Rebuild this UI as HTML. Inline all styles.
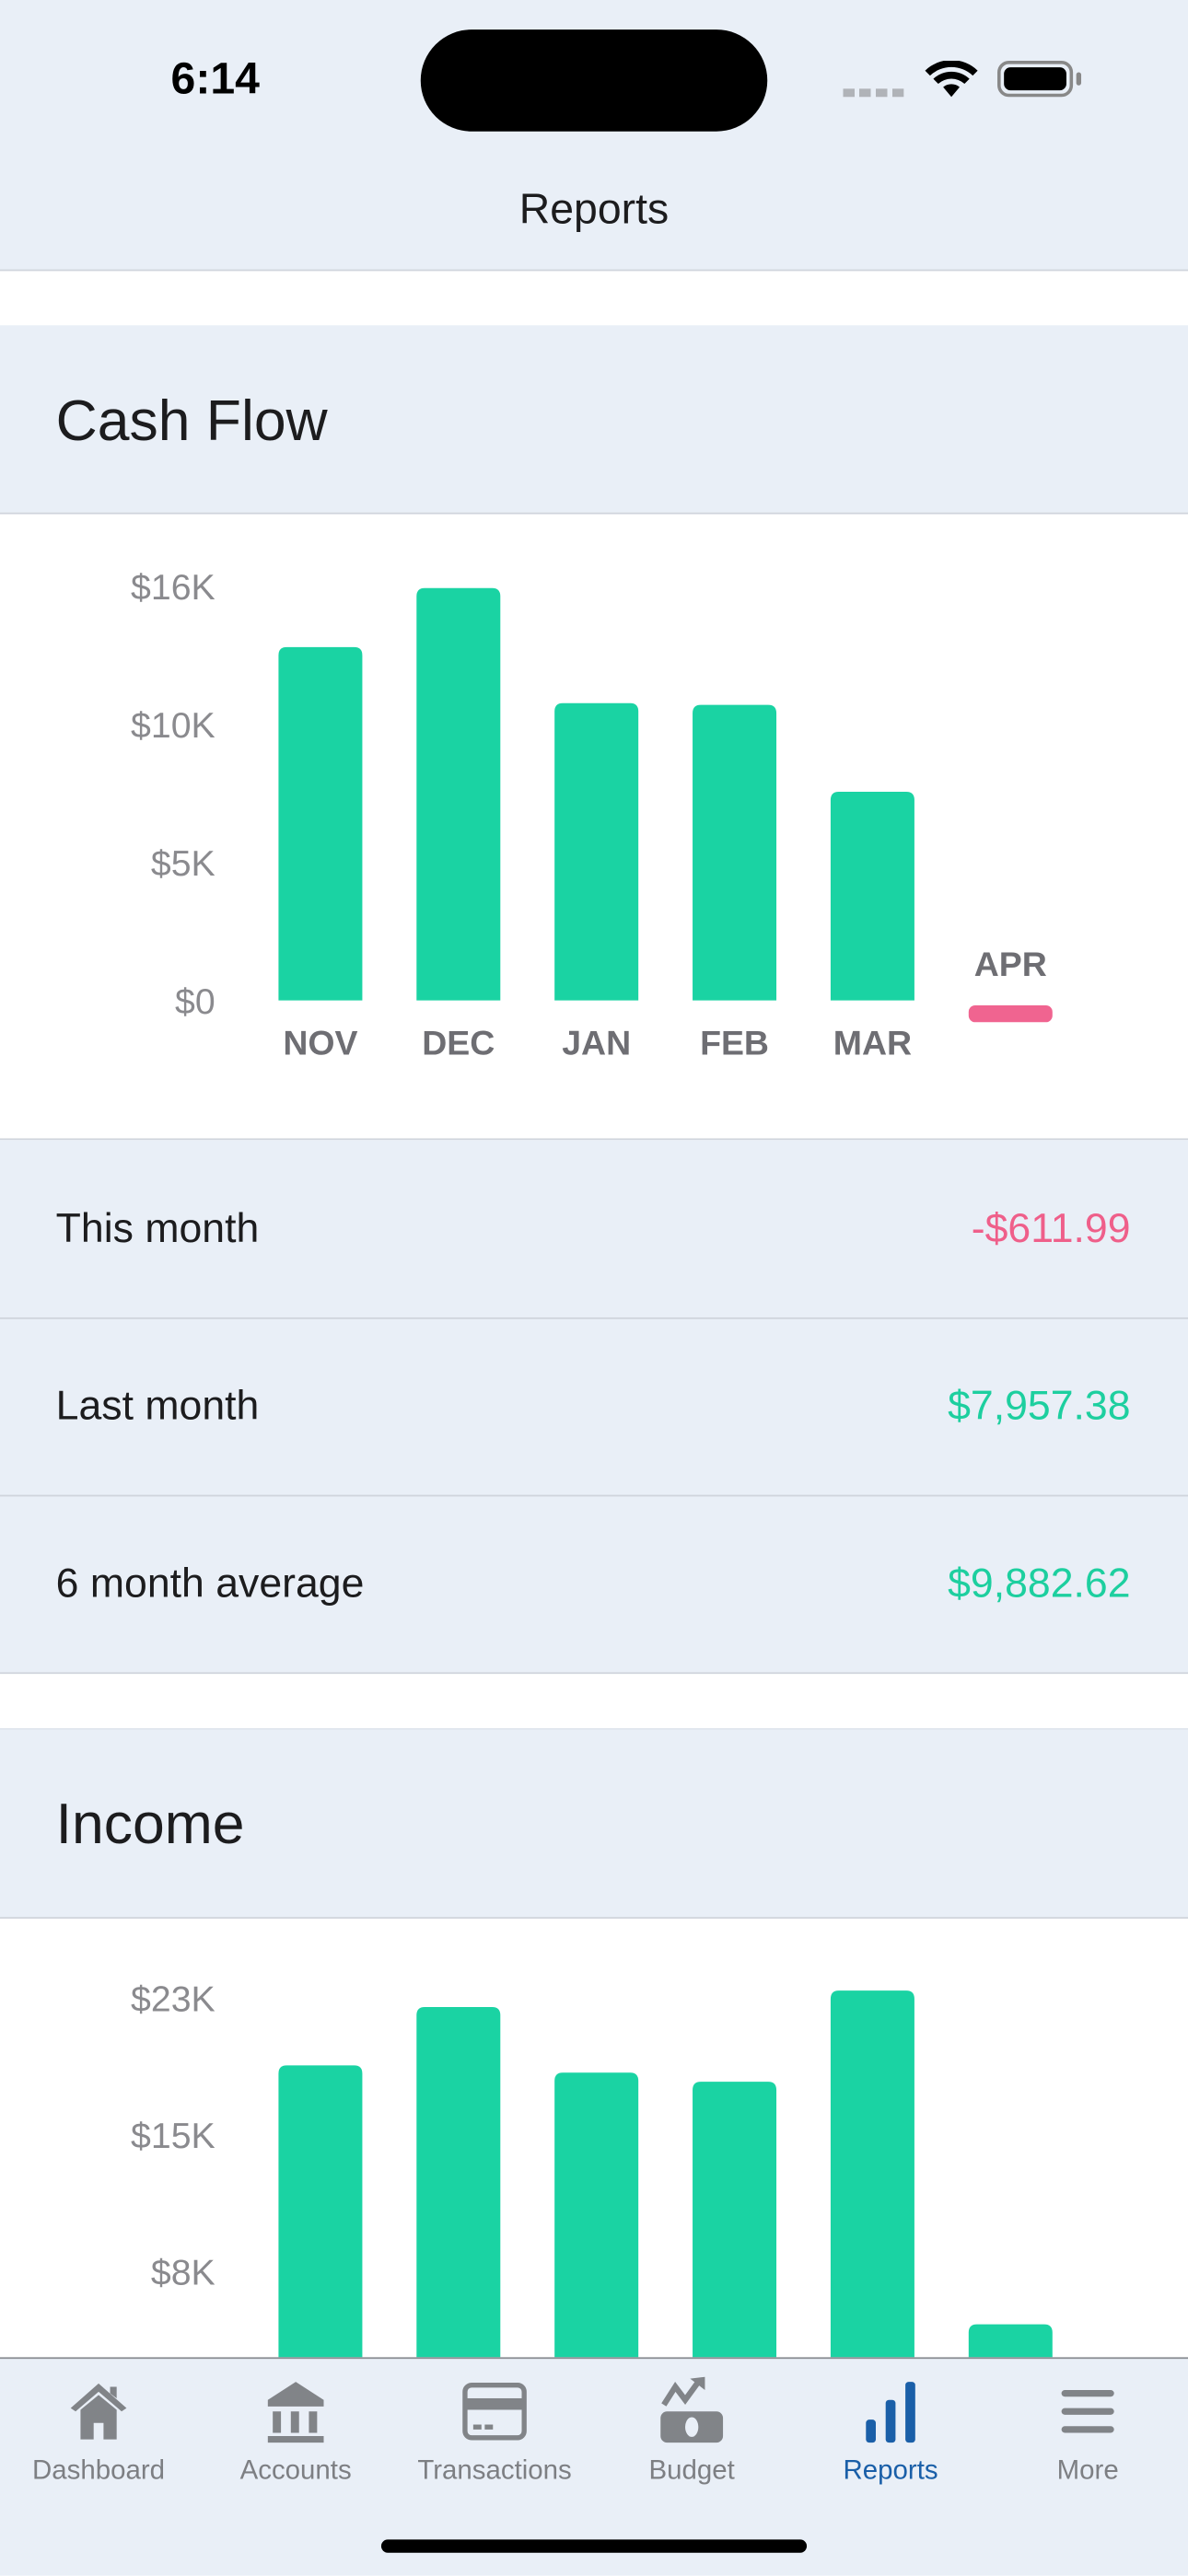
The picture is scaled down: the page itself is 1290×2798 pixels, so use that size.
<!DOCTYPE html>
<html><head><meta charset="utf-8">
<style>
html,body{margin:0;padding:0;background:#fff;}
body{width:1290px;height:2796px;overflow:hidden;position:relative;font-family:"Liberation Sans",sans-serif;}
#w{position:absolute;left:0;top:0;width:723px;height:1568px;transform:scale(1.78423);transform-origin:0 0;}
.abs{position:absolute;}
.bg{background:#e9eff7;}
.line{position:absolute;left:0;width:723px;height:1px;background:#cfd4dc;}
.hdr{position:absolute;left:34px;font-size:35px;color:#1c1c1e;}
.row{position:absolute;left:0;width:723px;height:108px;}
.row .l{position:absolute;left:34px;top:0;line-height:108px;font-size:25px;color:#1c1c1e;}
.row .r{position:absolute;right:35px;top:0;line-height:108px;font-size:25px;}
.tab{position:absolute;top:1495px;width:120px;text-align:center;font-size:16.5px;color:#7d7f83;}
</style></head><body>
<div id="w">
<div class="abs bg" style="left:0;top:0;width:723px;height:164px;"></div>
<div class="abs" style="left:104px;top:33px;font-size:27px;font-weight:bold;color:#000;">6:14</div>
<div class="abs" style="left:256px;top:18px;width:211px;height:62px;border-radius:31px;background:#000;"></div>
<div class="abs" style="left:513px;top:54px;width:37px;height:5px;background:repeating-linear-gradient(90deg,#b0b3b8 0 7px,transparent 7px 10px);"></div>
<svg class="abs" style="left:562px;top:37px" width="34" height="24" viewBox="0 0 34 24"><path d="M17 22 L12 16 A8 8 0 0 1 22 16Z M6 11 A16 16 0 0 1 28 11 L25 14 A12 12 0 0 0 9 14Z M1 6 A23 23 0 0 1 33 6 L30 9 A19 19 0 0 0 4 9Z" fill="#000"/></svg>
<div class="abs" style="left:607px;top:37px;width:46px;height:22px;border:2px solid #888;border-radius:7px;box-sizing:border-box;padding:2px;"><div style="width:100%;height:100%;background:#000;border-radius:4px;"></div></div>
<div class="abs" style="left:655px;top:44px;width:3px;height:8px;background:#888;border-radius:2px;"></div>
<div class="abs" style="left:0;width:723px;top:112px;text-align:center;font-size:26px;color:#1c1c1e;">Reports</div>
<div class="line" style="top:164px"></div>

<div class="abs bg" style="left:0;top:198px;width:723px;height:114px;"></div>
<div class="hdr" style="top:237px;">Cash Flow</div>
<div class="line" style="top:312px"></div>
<svg class="abs" id="c1" style="left:0;top:313px" width="723" height="380"></svg>
<div class="line" style="top:693px"></div>

<div class="abs bg" style="left:0;top:694px;width:723px;height:324px;"></div>
<div class="row" style="top:694px"><span class="l">This month</span><span class="r" style="color:#ef5f8a">-$611.99</span></div>
<div class="line" style="top:802px"></div>
<div class="row" style="top:802px"><span class="l">Last month</span><span class="r" style="color:#1dcf9f">$7,957.38</span></div>
<div class="line" style="top:910px"></div>
<div class="row" style="top:910px"><span class="l">6 month average</span><span class="r" style="color:#1dcf9f">$9,882.62</span></div>
<div class="line" style="top:1018px"></div>

<div class="abs bg" style="left:0;top:1052px;width:723px;height:115px;"></div>
<div class="line" style="top:1052px;background:#e1e6ee"></div>
<div class="hdr" style="top:1091px;">Income</div>
<div class="line" style="top:1167px"></div>
<svg class="abs" id="c2" style="left:0;top:1168px" width="723" height="267"></svg>

<div class="abs bg" style="left:0;top:1435px;width:723px;height:133px;"></div>
<div class="line" style="top:1435px;background:#8a8d92"></div>
<svg class="abs" style="left:40px;top:1448px" width="40" height="40" viewBox="0 0 40 40"><path d="M3 18 L20 3 L37 18 L34 20 L20 8 L6 20Z M9 19 L20 10 L31 19 L31 37 L23 37 L23 27 L17 27 L17 37 L9 37Z M27 5 L31 5 L31 12 L27 9Z" fill="#818488"/></svg>
<svg class="abs" style="left:160px;top:1448px" width="40" height="40" viewBox="0 0 40 40"><path d="M3 13 L20 2 L37 13 L37 17 L3 17Z M6 20 h5 v13 h-5Z M17 20 h5 v13 h-5Z M28 20 h5 v13 h-5Z M3 35 h34 v4 h-34Z" fill="#818488"/></svg>
<svg class="abs" style="left:281px;top:1448px" width="40" height="40" viewBox="0 0 40 40"><rect x="2" y="4" width="36" height="32" rx="4" fill="none" stroke="#818488" stroke-width="3"/><rect x="2" y="12" width="36" height="7" fill="#818488"/><rect x="7" y="28" width="5" height="3" fill="#818488"/><rect x="14" y="28" width="5" height="3" fill="#818488"/></svg>
<svg class="abs" style="left:401px;top:1446px" width="40" height="42" viewBox="0 0 40 42"><path d="M3 18 L10 7 L16 15 L24 4" fill="none" stroke="#818488" stroke-width="3.5"/><path d="M19 2 L28 1 L28 9Z" fill="#818488"/><rect x="1" y="22" width="38" height="19" rx="4" fill="#818488"/><ellipse cx="20" cy="31.5" rx="4" ry="6" fill="#e9eff7"/></svg>
<svg class="abs" style="left:522px;top:1448px" width="40" height="40" viewBox="0 0 40 40"><rect x="5" y="25" width="6" height="14" rx="2" fill="#1a5fa8"/><rect x="17" y="13" width="6" height="26" rx="2" fill="#1a5fa8"/><rect x="29" y="2" width="6" height="37" rx="2" fill="#1a5fa8"/></svg>
<svg class="abs" style="left:642px;top:1448px" width="40" height="40" viewBox="0 0 40 40"><rect x="4" y="7" width="32" height="4" rx="2" fill="#818488"/><rect x="4" y="18" width="32" height="4" rx="2" fill="#818488"/><rect x="4" y="29" width="32" height="4" rx="2" fill="#818488"/></svg>
<div class="tab" style="left:0">Dashboard</div>
<div class="tab" style="left:120px">Accounts</div>
<div class="tab" style="left:241px">Transactions</div>
<div class="tab" style="left:361px">Budget</div>
<div class="tab" style="left:482px;color:#1a5fa8">Reports</div>
<div class="tab" style="left:602px">More</div>
<div class="abs" style="left:232px;top:1546px;width:259px;height:8px;border-radius:4px;background:#000;"></div>
</div>
<script>
const months = ["NOV","DEC","JAN","FEB","MAR","APR"];
const cashValues = [12800, 14940, 10770, 10710, 7560, -612];
const cashTicks = [0, 5000, 10000, 15000];
const cashTickLabels = ["$0","$5K","$10K","$16K"];
const incomeValues = [18800, 22000, 18400, 17900, 22900, 4600];
const incomeTicks = [7500, 15000, 22500];
const incomeTickLabels = ["$8K","$15K","$23K"];

const NS = "http://www.w3.org/2000/svg";
function mk(svg, tag, attrs, text){
  const e = document.createElementNS(NS, tag);
  for (const k in attrs) e.setAttribute(k, attrs[k]);
  if (text !== undefined) e.textContent = text;
  svg.appendChild(e);
  return e;
}
function xCenter(i){ return 195 + i * 84; }
function barPath(x, y0, y1, w, r){
  const h = y1 - y0; r = Math.min(r, h/2, w/2);
  return `M${x} ${y1} V${y0+r} Q${x} ${y0} ${x+r} ${y0} H${x+w-r} Q${x+w} ${y0} ${x+w} ${y0+r} V${y1}Z`;
}
function draw(svg, values, ticks, tickLabels, base, pxPerUnit, showMonths){
  const y = v => base - v * pxPerUnit;
  ticks.forEach((t, i) => {
    const el = mk(svg, "text", {x:131, y:y(t)+8, "text-anchor":"end", "font-size":"22", fill:"#8a8a8e", "font-family":"Liberation Sans, sans-serif"}, tickLabels[i]);
    
    
  });
  values.forEach((v, i) => {
    const cx = xCenter(i);
    if (v >= 0) {
      const b = mk(svg, "path", {d: barPath(cx-25.5, y(v), base, 51, 5), fill:"#1ad3a3"});
      
      
      if (showMonths) {
        const l = mk(svg, "text", {x:cx, y:base+33, "text-anchor":"middle", "font-size":"21", "font-weight":"bold", fill:"#6e6e73", "font-family":"Liberation Sans, sans-serif"}, months[i]);
        
        
      }
    } else {
      const h = Math.max(8, -v * pxPerUnit);
      const b = mk(svg, "rect", {x:cx-25.5, y:base+3, width:51, height:h, rx:4, fill:"#f06490"});
      
      
      if (showMonths) {
        const l = mk(svg, "text", {x:cx, y:base-15, "text-anchor":"middle", "font-size":"21", "font-weight":"bold", fill:"#6e6e73", "font-family":"Liberation Sans, sans-serif"}, months[i]);
        
        
      }
    }
  });
}
draw(document.getElementById("c1"), cashValues, cashTicks, cashTickLabels, 296, 0.0168, true);
draw(document.getElementById("c2"), incomeValues, incomeTicks, incomeTickLabels, 298, 0.0111, false);
</script>
</body></html>
